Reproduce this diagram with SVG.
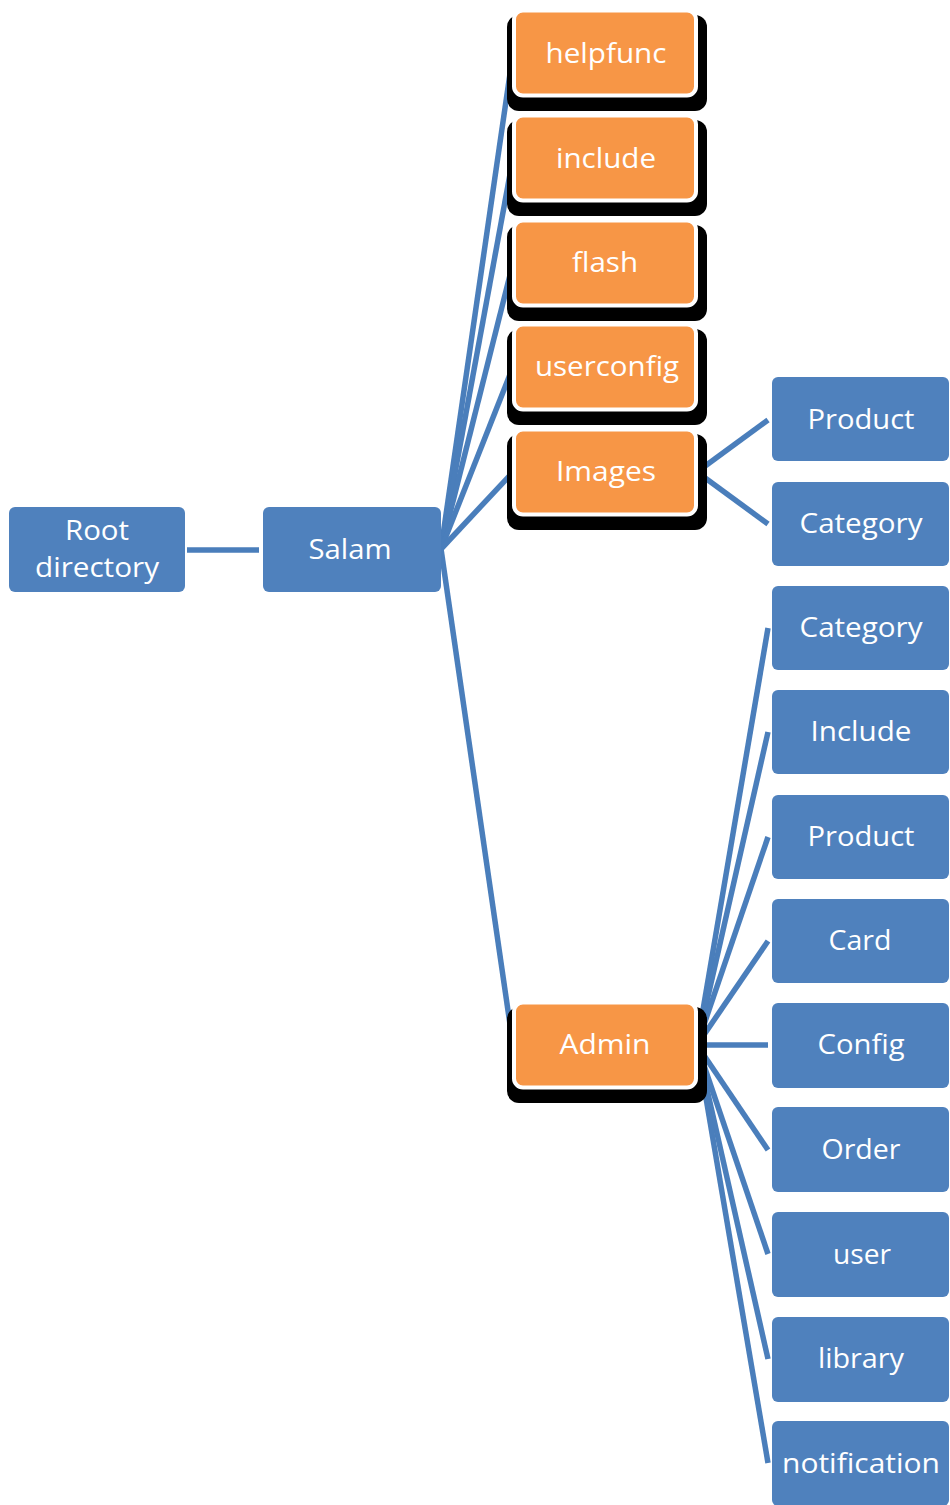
<svg xmlns="http://www.w3.org/2000/svg" width="950" height="1505" viewBox="0 0 950 1505">
<style>
.blue{fill:#4F81BD;}
.org{fill:#F79646;stroke:#FFFFFF;stroke-width:4;}
.sh{fill:#000000;}
.lbl{font-family:"Open Sans","Liberation Sans",sans-serif;font-size:28px;fill:#FFFFFF;text-anchor:middle;}
.cn{stroke:#4A7EBB;stroke-width:5.5;fill:none;}
</style>
<rect width="950" height="1505" fill="#FFFFFF"/>
<g id="connectors">
<line class="cn" x1="187" y1="550" x2="259" y2="550"/>
<line class="cn" x1="441" y1="549" x2="513" y2="53"/>
<line class="cn" x1="441" y1="549" x2="513" y2="158"/>
<line class="cn" x1="441" y1="549" x2="513" y2="263"/>
<line class="cn" x1="441" y1="549" x2="513" y2="367"/>
<line class="cn" x1="441" y1="549" x2="513" y2="472"/>
<line class="cn" x1="441" y1="549" x2="513" y2="1045"/>
<line class="cn" x1="697" y1="472" x2="768" y2="420"/>
<line class="cn" x1="697" y1="472" x2="768" y2="524"/>
<line class="cn" x1="697" y1="1045" x2="768" y2="628"/>
<line class="cn" x1="697" y1="1045" x2="768" y2="732"/>
<line class="cn" x1="697" y1="1045" x2="768" y2="837"/>
<line class="cn" x1="697" y1="1045" x2="768" y2="941"/>
<line class="cn" x1="697" y1="1045" x2="768" y2="1045"/>
<line class="cn" x1="697" y1="1045" x2="768" y2="1150"/>
<line class="cn" x1="697" y1="1045" x2="768" y2="1254"/>
<line class="cn" x1="697" y1="1045" x2="768" y2="1359"/>
<line class="cn" x1="697" y1="1045" x2="768" y2="1463"/>
</g>
<g id="root">
<rect class="blue" x="9" y="507" width="176" height="85" rx="6"/>
<text class="lbl" x="97" y="540" textLength="64" lengthAdjust="spacingAndGlyphs">Root</text>
<text class="lbl" x="97" y="577" textLength="124" lengthAdjust="spacingAndGlyphs">directory</text>
</g>
<g id="salam">
<rect class="blue" x="263" y="507" width="178" height="85" rx="6"/>
<text class="lbl" x="350" y="559" textLength="83" lengthAdjust="spacingAndGlyphs">Salam</text>
</g>
<g id="helpfunc">
<rect class="sh" x="507" y="15" width="200" height="96" rx="12"/>
<rect class="org" x="514" y="10.5" width="182" height="85" rx="9"/>
<text class="lbl" x="606" y="63" textLength="121" lengthAdjust="spacingAndGlyphs">helpfunc</text>
</g>
<g id="include">
<rect class="sh" x="507" y="120" width="200" height="96" rx="12"/>
<rect class="org" x="514" y="115.5" width="182" height="85" rx="9"/>
<text class="lbl" x="606" y="168" textLength="100" lengthAdjust="spacingAndGlyphs">include</text>
</g>
<g id="flash">
<rect class="sh" x="507" y="225" width="200" height="96" rx="12"/>
<rect class="org" x="514" y="220.5" width="182" height="85" rx="9"/>
<text class="lbl" x="605" y="272" textLength="66" lengthAdjust="spacingAndGlyphs">flash</text>
</g>
<g id="userconfig">
<rect class="sh" x="507" y="329" width="200" height="96" rx="12"/>
<rect class="org" x="514" y="324.5" width="182" height="85" rx="9"/>
<text class="lbl" x="607" y="376" textLength="144" lengthAdjust="spacingAndGlyphs">userconfig</text>
</g>
<g id="images">
<rect class="sh" x="507" y="434" width="200" height="96" rx="12"/>
<rect class="org" x="514" y="429.5" width="182" height="85" rx="9"/>
<text class="lbl" x="606" y="481" textLength="100" lengthAdjust="spacingAndGlyphs">Images</text>
</g>
<g id="admin">
<rect class="sh" x="507" y="1007" width="200" height="96" rx="12"/>
<rect class="org" x="514" y="1002.5" width="182" height="85" rx="9"/>
<text class="lbl" x="605" y="1054" textLength="91" lengthAdjust="spacingAndGlyphs">Admin</text>
</g>
<g id="img-product">
<rect class="blue" x="772" y="377" width="177" height="84" rx="6"/>
<text class="lbl" x="861" y="429" textLength="107" lengthAdjust="spacingAndGlyphs">Product</text>
</g>
<g id="img-category">
<rect class="blue" x="772" y="482" width="177" height="84" rx="6"/>
<text class="lbl" x="861" y="533" textLength="123" lengthAdjust="spacingAndGlyphs">Category</text>
</g>
<g id="adm-category">
<rect class="blue" x="772" y="586" width="177" height="84" rx="6"/>
<text class="lbl" x="861" y="637" textLength="123" lengthAdjust="spacingAndGlyphs">Category</text>
</g>
<g id="adm-include">
<rect class="blue" x="772" y="690" width="177" height="84" rx="6"/>
<text class="lbl" x="861" y="741" textLength="101" lengthAdjust="spacingAndGlyphs">Include</text>
</g>
<g id="adm-product">
<rect class="blue" x="772" y="795" width="177" height="84" rx="6"/>
<text class="lbl" x="861" y="846" textLength="107" lengthAdjust="spacingAndGlyphs">Product</text>
</g>
<g id="adm-card">
<rect class="blue" x="772" y="899" width="177" height="84" rx="6"/>
<text class="lbl" x="860" y="950" textLength="63" lengthAdjust="spacingAndGlyphs">Card</text>
</g>
<g id="adm-config">
<rect class="blue" x="772" y="1003" width="177" height="85" rx="6"/>
<text class="lbl" x="861" y="1054" textLength="87" lengthAdjust="spacingAndGlyphs">Config</text>
</g>
<g id="adm-order">
<rect class="blue" x="772" y="1107" width="177" height="85" rx="6"/>
<text class="lbl" x="861" y="1159" textLength="79" lengthAdjust="spacingAndGlyphs">Order</text>
</g>
<g id="adm-user">
<rect class="blue" x="772" y="1212" width="177" height="85" rx="6"/>
<text class="lbl" x="862" y="1264" textLength="58" lengthAdjust="spacingAndGlyphs">user</text>
</g>
<g id="adm-library">
<rect class="blue" x="772" y="1317" width="177" height="85" rx="6"/>
<text class="lbl" x="861" y="1368" textLength="86" lengthAdjust="spacingAndGlyphs">library</text>
</g>
<g id="adm-notification">
<rect class="blue" x="772" y="1421" width="177" height="85" rx="6"/>
<text class="lbl" x="861" y="1473" textLength="158" lengthAdjust="spacingAndGlyphs">notification</text>
</g>
</svg>
